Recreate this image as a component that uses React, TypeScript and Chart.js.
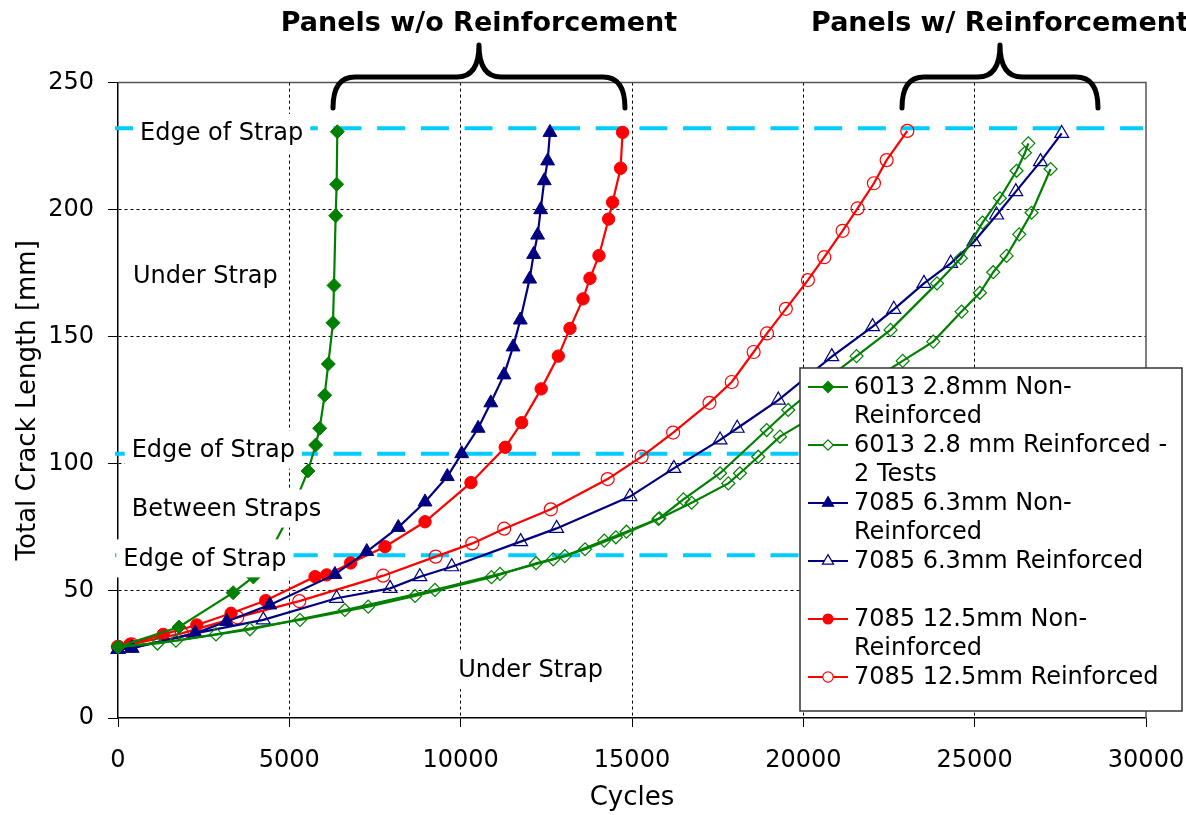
import React, { useEffect, useRef } from 'react';
import { Chart, registerables } from 'chart.js';

Chart.register(...registerables);

// ---------------- data ----------------
const xTicks = [0, 5000, 10000, 15000, 20000, 25000, 30000];
const yTicks = [0, 50, 100, 150, 200, 250];

// 6013 2.8mm Non-Reinforced
const nr6013Cycles = [0, 1780, 3360, 3950, 4500, 5050, 5545, 5768, 5885, 6031, 6137, 6274, 6303, 6352, 6381, 6400];
const nr6013Length = [28, 35.8, 49.3, 55.5, 67, 81, 97.2, 107.4, 114, 127, 139.3, 155.5, 170.2, 197.6, 210, 230.7];

// 6013 2.8 mm Reinforced - test A
const r6013aCycles = [0, 1150, 2860, 5310, 7300, 8670, 10900, 12200, 13040, 14190, 14840, 15800, 16500, 17570, 18930, 19560, 20500, 21553, 22545, 23900, 24597, 25230, 25736, 26223, 26467, 26565];
const r6013aLength = [28, 29.3, 32.9, 38.6, 43.8, 48, 55.4, 60.9, 63.7, 69.8, 73.3, 78.6, 86, 96.3, 113.3, 121.2, 131.5, 142.4, 152.7, 171, 180.9, 194.9, 204.5, 215.3, 222.4, 226.1];

// 6013 2.8 mm Reinforced - test B
const r6013bCycles = [0, 1690, 3850, 6620, 9250, 11150, 12700, 13630, 14530, 15770, 16741, 17810, 18150, 18684, 19318, 20100, 21000, 21900, 22900, 23791, 24618, 25153, 25541, 25931, 26300, 26661, 27216];
const r6013bLength = [28, 30.4, 34.9, 42.5, 50.4, 56.7, 62.4, 66.4, 71.1, 78.3, 84.7, 92.3, 96.3, 102.8, 110.7, 117, 124.5, 132, 140.5, 148.1, 159.9, 167.3, 175.4, 181.8, 190.3, 198.8, 216];

// 7085 6.3mm Non-Reinforced
const nr7085t63Cycles = [0, 400, 2250, 3170, 4430, 6330, 7260, 8180, 8960, 9610, 10030, 10510, 10880, 11264, 11530, 11740, 12013, 12129, 12246, 12334, 12440, 12538, 12606];
const nr7085t63Length = [27, 27.5, 33.3, 38, 44.5, 56.5, 65.5, 75, 85, 95, 104, 114, 124, 135, 146, 156.6, 172.7, 182.4, 190, 200, 211.4, 219.2, 230.4];

// 7085 6.3mm Reinforced
const r7085t63Cycles = [0, 400, 2250, 4240, 6380, 7940, 8810, 9740, 11750, 12800, 14940, 16220, 17570, 18070, 19270, 20830, 22020, 22640, 23520, 24300, 24980, 25640, 26200, 26920, 27540];
const r7085t63Length = [27, 27.5, 33.3, 38.6, 47.1, 51, 55.6, 59.5, 69.4, 74.6, 87.1, 98.2, 109.4, 114, 125.1, 142.2, 154, 160.8, 171, 178.9, 187.4, 197.9, 207.1, 218.9, 230];

// 7085 12.5mm Non-Reinforced
const nr7085t125Cycles = [0, 350, 1320, 2300, 3300, 4310, 5750, 6090, 6790, 7790, 8960, 10300, 11300, 11780, 12350, 12850, 13190, 13570, 13773, 14036, 14317, 14433, 14667, 14725];
const nr7085t125Length = [28, 29, 32.9, 36.6, 41.2, 46.2, 55.6, 56.3, 61, 67.4, 77.2, 92.6, 106.5, 116.2, 129.5, 142.4, 153.3, 164.9, 173, 181.9, 196.3, 202.9, 216.3, 230.4];

// 7085 12.5mm Reinforced
const r7085t125Cycles = [0, 400, 1860, 3480, 5290, 7740, 9270, 10340, 11270, 12630, 14290, 15280, 16200, 17260, 17910, 18550, 18940, 19490, 20134, 20611, 21145, 21583, 22060, 22431, 23034];
const r7085t125Length = [28, 29, 33.3, 39.6, 46, 56, 63.5, 68.7, 74.5, 82.1, 94, 102.8, 112.3, 124, 132.2, 144, 151.3, 161, 172.3, 181.3, 191.7, 200.5, 210.4, 219.5, 231];

// strap edges (crack length, mm)
const strapEdgeLengths = [232, 104, 64];

// region annotations (anchored in data coordinates: left of text, middle of text)
const annotationTexts = ['Edge of Strap', 'Under Strap', 'Edge of Strap', 'Between Straps', 'Edge of Strap', 'Under Strap'];
const annotationCycles = [642, 438, 400, 400, 155, 9931];
const annotationLengths = [230.2, 173.9, 105.6, 82.4, 62.8, 18.9];

// grouping braces
const groupTitles = ['Panels w/o Reinforcement', 'Panels w/ Reinforcement'];
const groupStartCycles = [6274, 22879];
const groupEndCycles = [14795, 28599];

// legend
const legendLabels = [
  ['6013 2.8mm Non-', 'Reinforced'],
  ['6013 2.8 mm Reinforced -', '2 Tests'],
  ['7085 6.3mm Non-', 'Reinforced'],
  ['7085 6.3mm Reinforced', ''],
  ['7085 12.5mm Non-', 'Reinforced'],
  ['7085 12.5mm Reinforced'],
];
const legendSeriesIndex = [0, 1, 3, 4, 5, 6];

// ---------------- styling ----------------
const FONT = '"DejaVu Sans", "Liberation Sans", sans-serif';
const GREEN = '#008000';
const NAVY = '#000080';
const RED = '#FF0000';

const pts = (xs: number[], ys: number[]) => xs.map((x, i) => ({ x, y: ys[i] }));

type SeriesDef = { label: string; data: { x: number; y: number }[]; color: string; style: string; r: number; filled: boolean };

const seriesDefs: SeriesDef[] = [
  { label: '6013 2.8mm Non-Reinforced', data: pts(nr6013Cycles, nr6013Length), color: GREEN, style: 'rectRot', r: 7, filled: true },
  { label: '6013 2.8 mm Reinforced - 2 Tests', data: pts(r6013aCycles, r6013aLength), color: GREEN, style: 'rectRot', r: 6.5, filled: false },
  { label: '6013 2.8 mm Reinforced - 2 Tests (B)', data: pts(r6013bCycles, r6013bLength), color: GREEN, style: 'rectRot', r: 6.5, filled: false },
  { label: '7085 6.3mm Non-Reinforced', data: pts(nr7085t63Cycles, nr7085t63Length), color: NAVY, style: 'triangle', r: 8, filled: true },
  { label: '7085 6.3mm Reinforced', data: pts(r7085t63Cycles, r7085t63Length), color: NAVY, style: 'triangle', r: 8, filled: false },
  { label: '7085 12.5mm Non-Reinforced', data: pts(nr7085t125Cycles, nr7085t125Length), color: RED, style: 'circle', r: 6.2, filled: true },
  { label: '7085 12.5mm Reinforced', data: pts(r7085t125Cycles, r7085t125Length), color: RED, style: 'circle', r: 6.5, filled: false },
];

function drawMarker(ctx: CanvasRenderingContext2D, style: string, x: number, y: number, r: number, color: string, filled: boolean) {
  ctx.beginPath();
  if (style === 'rectRot') {
    ctx.moveTo(x, y - r);
    ctx.lineTo(x + r, y);
    ctx.lineTo(x, y + r);
    ctx.lineTo(x - r, y);
    ctx.closePath();
  } else if (style === 'triangle') {
    for (let k = 0; k < 3; k++) {
      const a = (k * 2 * Math.PI) / 3;
      const px = x + Math.sin(a) * r;
      const py = y - Math.cos(a) * r;
      if (k === 0) ctx.moveTo(px, py);
      else ctx.lineTo(px, py);
    }
    ctx.closePath();
  } else {
    ctx.arc(x, y, r, 0, Math.PI * 2);
  }
  ctx.fillStyle = filled ? color : '#fff';
  ctx.fill();
  ctx.strokeStyle = color;
  ctx.lineWidth = 1.2;
  ctx.stroke();
}

function drawBrace(ctx: CanvasRenderingContext2D, xl: number, xr: number, yBottom: number, yMid: number, yTip: number) {
  const cx = (xl + xr) / 2;
  const r = 22;
  ctx.beginPath();
  ctx.moveTo(xl, yBottom);
  ctx.quadraticCurveTo(xl, yMid, xl + r, yMid);
  ctx.lineTo(cx - r, yMid);
  ctx.quadraticCurveTo(cx, yMid, cx, yTip);
  ctx.quadraticCurveTo(cx, yMid, cx + r, yMid);
  ctx.lineTo(xr - r, yMid);
  ctx.quadraticCurveTo(xr, yMid, xr, yBottom);
  ctx.stroke();
}

const overlayPlugin = {
  id: 'overlay',
  beforeDatasetsDraw(chart: any) {
    const { ctx, chartArea: a, scales } = chart;
    const y = scales.y;
    ctx.save();
    // plot-area frame (top & right)
    ctx.strokeStyle = '#555';
    ctx.lineWidth = 1.5;
    ctx.beginPath();
    ctx.moveTo(a.left, a.top);
    ctx.lineTo(a.right, a.top);
    ctx.lineTo(a.right, a.bottom);
    ctx.stroke();
    // strap edge lines
    ctx.strokeStyle = '#00CCFF';
    ctx.lineWidth = 4;
    ctx.setLineDash([28, 15.7]);
    for (const v of strapEdgeLengths) {
      const py = y.getPixelForValue(v);
      ctx.beginPath();
      ctx.moveTo(a.left - 3, py);
      ctx.lineTo(a.right - 3, py);
      ctx.stroke();
    }
    ctx.restore();
  },
  afterDatasetsDraw(chart: any) {
    const { ctx, scales } = chart;
    const x = scales.x;
    const y = scales.y;
    ctx.save();

    // region annotations
    ctx.font = `24px ${FONT}`;
    ctx.textBaseline = 'middle';
    ctx.textAlign = 'left';
    annotationTexts.forEach((t, i) => {
      const px = x.getPixelForValue(annotationCycles[i]);
      const py = y.getPixelForValue(annotationLengths[i]);
      const w = ctx.measureText(t).width;
      ctx.fillStyle = '#fff';
      ctx.fillRect(px - 7, py - 19, w + 14, 38);
      ctx.fillStyle = '#000';
      ctx.fillText(t, px, py + 1);
    });

    // legend
    const L = 800, T = 368, R = 1182, B = 711;
    const lineH = 29;
    ctx.fillStyle = '#fff';
    ctx.fillRect(L, T, R - L, B - T);
    ctx.strokeStyle = '#333';
    ctx.lineWidth = 1.5;
    ctx.strokeRect(L, T, R - L, B - T);
    let line = 0;
    legendLabels.forEach((lines, i) => {
      const s = seriesDefs[legendSeriesIndex[i]];
      const ly = T + 19 + line * lineH;
      ctx.strokeStyle = s.color;
      ctx.lineWidth = 2;
      ctx.beginPath();
      ctx.moveTo(L + 8, ly);
      ctx.lineTo(L + 48, ly);
      ctx.stroke();
      drawMarker(ctx, s.style, L + 28, ly, s.r * 0.8, s.color, s.filled);
      ctx.fillStyle = '#000';
      ctx.font = `24px ${FONT}`;
      ctx.textAlign = 'left';
      ctx.textBaseline = 'middle';
      lines.forEach((t, j) => {
        if (t) ctx.fillText(t, L + 54, T + 20 + (line + j) * lineH);
      });
      line += lines.length;
    });

    // group braces and titles
    ctx.strokeStyle = '#000';
    ctx.lineWidth = 5;
    ctx.lineCap = 'round';
    ctx.lineJoin = 'round';
    ctx.font = `bold 27px ${FONT}`;
    ctx.textAlign = 'center';
    ctx.textBaseline = 'middle';
    ctx.fillStyle = '#000';
    groupTitles.forEach((t, i) => {
      const xl = x.getPixelForValue(groupStartCycles[i]);
      const xr = x.getPixelForValue(groupEndCycles[i]);
      drawBrace(ctx, xl, xr, 108, 77, 45);
      ctx.fillText(t, (xl + xr) / 2, 24);
    });
    ctx.restore();
  },
};

export default function App() {
  const ref = useRef<HTMLCanvasElement>(null);
  useEffect(() => {
    if (!ref.current) return;
    const gridColor = (edgeA: number, edgeB: number) => (c: any) =>
      c.tick && (c.tick.value === edgeA || c.tick.value === edgeB) ? 'rgba(0,0,0,0)' : '#000';
    const chart = new Chart(ref.current, {
      type: 'scatter',
      data: {
        datasets: seriesDefs.map((s) => ({
          label: s.label,
          data: s.data,
          showLine: true,
          borderColor: s.color,
          backgroundColor: s.color,
          borderWidth: 2.2,
          pointStyle: s.style as any,
          pointRadius: s.r,
          pointHoverRadius: s.r,
          pointBackgroundColor: s.filled ? s.color : 'rgba(0,0,0,0)',
          pointBorderColor: s.color,
          pointBorderWidth: s.filled ? 1 : 1.2,
          tension: 0,
          clip: false as any,
        })),
      },
      options: {
        responsive: false,
        animation: false,
        devicePixelRatio: 1,
        events: [],
        layout: { padding: { left: 0, right: 40, top: 82.6, bottom: 0 } },
        plugins: {
          legend: { display: false },
          title: { display: false },
          tooltip: { enabled: false },
        },
        scales: {
          x: {
            type: 'linear',
            min: xTicks[0],
            max: xTicks[xTicks.length - 1],
            ticks: {
              stepSize: xTicks[1] - xTicks[0],
              color: '#000',
              font: { family: FONT, size: 24 },
              padding: 19,
              maxRotation: 0,
              autoSkip: false,
              callback: (v: any) => String(v),
            },
            grid: {
              color: gridColor(xTicks[0], xTicks[xTicks.length - 1]),
              lineWidth: 1,
              tickColor: '#000',
              tickLength: 9,
            },
            border: { display: true, color: '#000', width: 1.5, dash: [3, 3] },
            title: {
              display: true,
              text: 'Cycles',
              color: '#000',
              font: { family: FONT, size: 26 },
              padding: { top: 0, bottom: 1.4 },
            },
            afterFit: (s: any) => {
              s.height = 97;
              s.paddingLeft = 0;
              s.paddingRight = 0;
            },
          },
          y: {
            type: 'linear',
            min: yTicks[0],
            max: yTicks[yTicks.length - 1],
            ticks: {
              stepSize: yTicks[1] - yTicks[0],
              color: '#000',
              font: { family: FONT, size: 24 },
              padding: 14,
              callback: (v: any) => String(v),
            },
            grid: {
              color: gridColor(yTicks[0], yTicks[yTicks.length - 1]),
              lineWidth: 1,
              tickColor: '#000',
              tickLength: 10,
            },
            border: { display: true, color: '#000', width: 1.5, dash: [3, 3] },
            title: {
              display: true,
              text: 'Total Crack Length [mm]',
              color: '#000',
              font: { family: FONT, size: 26 },
              padding: { top: 13, bottom: 0 },
            },
            afterFit: (s: any) => {
              s.width = 118;
              s.paddingTop = 0;
              s.paddingBottom = 0;
            },
          },
        },
      } as any,
      plugins: [overlayPlugin],
    });
    return () => chart.destroy();
  }, []);
  return (
    <div style={{ position: 'absolute', left: 0, top: 0, width: 1186, height: 815, background: '#fff', overflow: 'hidden' }}>
      <canvas ref={ref} width={1186} height={815} style={{ display: 'block' }} />
    </div>
  );
}
